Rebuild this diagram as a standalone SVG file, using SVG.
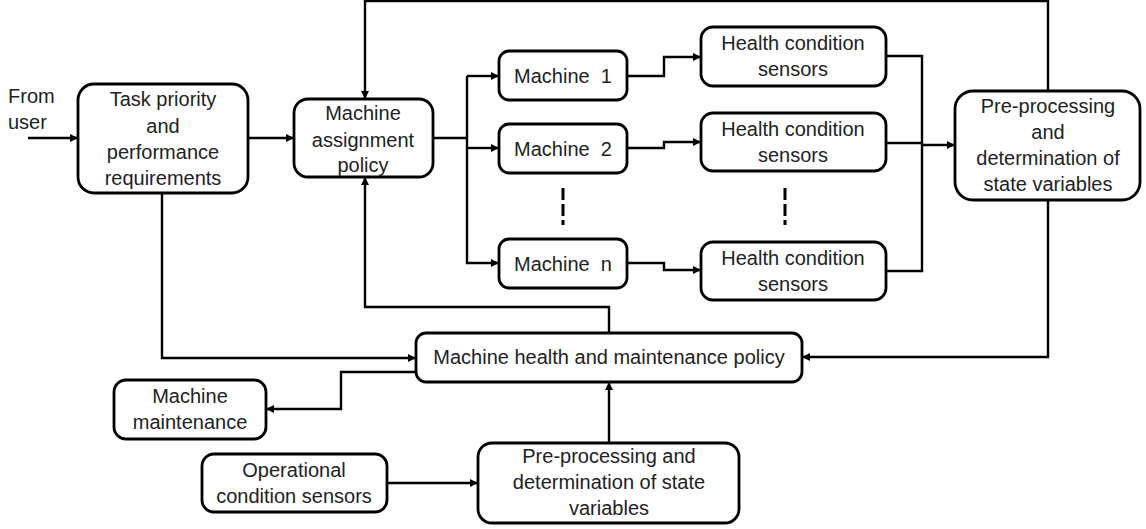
<svg xmlns="http://www.w3.org/2000/svg" width="1146" height="529" viewBox="0 0 1146 529">
<defs>
<marker id="ah" viewBox="0 0 10 10" refX="10" refY="5" markerWidth="9" markerHeight="8" markerUnits="userSpaceOnUse" orient="auto">
<path d="M0,0 L10,5 L0,10 z" fill="#000"/>
</marker>
<style>
.box{fill:#fff;stroke:#000;stroke-width:2.8}
.t{font-family:"Liberation Sans",Arial,sans-serif;font-size:20px;fill:#222;text-anchor:middle}
.c{fill:none;stroke:#000;stroke-width:2.4}
.a{marker-end:url(#ah)}
.d{fill:none;stroke:#000;stroke-width:3;stroke-dasharray:12,4}
</style>
</defs>
<rect width="1146" height="529" fill="#fff"/>
<g id="connectors">
<path class="c a" d="M28,138 H78"/>
<path class="c a" d="M248,138 H294"/>
<path class="c a" d="M1048,91 V1 H365 V99"/>
<path class="c" d="M433,138 H467"/>
<path class="c a" d="M467,76 H499"/>
<path class="c a" d="M467,76 V263 H499"/>
<path class="c a" d="M467,148 H499"/>
<path class="c a" d="M627,76 H664 V57 H701"/>
<path class="c a" d="M627,148 H664 V142 H701"/>
<path class="c a" d="M627,263 H664 V270 H701"/>
<path class="c" d="M886,56 H922 V271 H886"/>
<path class="c" d="M886,143 H922"/>
<path class="c a" d="M922,145 H955"/>
<path class="c a" d="M1048,200 V357 H802"/>
<path class="c a" d="M609,333 V307 H365 V177"/>
<path class="c a" d="M162,193 V358 H416"/>
<path class="c a" d="M416,372 H341 V409 H266"/>
<path class="c a" d="M387,483 H478"/>
<path class="c a" d="M609,443 V382"/>
<path class="d" d="M563,188 V225"/>
<path class="d" d="M785,188 V225"/>
</g>
<text class="t" x="8" y="103" style="text-anchor:start">From</text>
<text class="t" x="8" y="129" style="text-anchor:start">user</text>
<g id="task">
<rect class="box" x="78" y="84" width="170" height="109" rx="16"/>
<text class="t" x="163" y="106">Task priority</text>
<text class="t" x="163" y="133">and</text>
<text class="t" x="163" y="159">performance</text>
<text class="t" x="163" y="185">requirements</text>
</g>
<g id="assign">
<rect class="box" x="294" y="99" width="139" height="78" rx="14"/>
<text class="t" x="363" y="120">Machine</text>
<text class="t" x="363" y="147">assignment</text>
<text class="t" x="363" y="172">policy</text>
</g>
<g id="m1">
<rect class="box" x="499" y="51" width="128" height="49" rx="10"/>
<text class="t" x="563" y="83" xml:space="preserve">Machine  1</text>
</g>
<g id="m2">
<rect class="box" x="499" y="124" width="128" height="49" rx="10"/>
<text class="t" x="563" y="156" xml:space="preserve">Machine  2</text>
</g>
<g id="mn">
<rect class="box" x="499" y="239" width="128" height="49" rx="10"/>
<text class="t" x="563" y="271" xml:space="preserve">Machine  n</text>
</g>
<g id="h1">
<rect class="box" x="701" y="27" width="185" height="59" rx="12"/>
<text class="t" x="793" y="50">Health condition</text>
<text class="t" x="793" y="76">sensors</text>
</g>
<g id="h2">
<rect class="box" x="701" y="113" width="185" height="58" rx="12"/>
<text class="t" x="793" y="136">Health condition</text>
<text class="t" x="793" y="162">sensors</text>
</g>
<g id="hn">
<rect class="box" x="701" y="242" width="185" height="58" rx="12"/>
<text class="t" x="793" y="265">Health condition</text>
<text class="t" x="793" y="291">sensors</text>
</g>
<g id="prep1">
<rect class="box" x="955" y="91" width="185" height="109" rx="18"/>
<text class="t" x="1048" y="113">Pre-processing</text>
<text class="t" x="1048" y="139">and</text>
<text class="t" x="1048" y="165">determination of</text>
<text class="t" x="1048" y="191">state variables</text>
</g>
<g id="mhp">
<rect class="box" x="416" y="333" width="386" height="49" rx="10"/>
<text class="t" x="609" y="364">Machine health and maintenance policy</text>
</g>
<g id="maint">
<rect class="box" x="114" y="380" width="152" height="59" rx="12"/>
<text class="t" x="190" y="403">Machine</text>
<text class="t" x="190" y="429">maintenance</text>
</g>
<g id="ops">
<rect class="box" x="202" y="454" width="185" height="58" rx="12"/>
<text class="t" x="294" y="477">Operational</text>
<text class="t" x="294" y="503">condition sensors</text>
</g>
<g id="prep2">
<rect class="box" x="478" y="443" width="261" height="80" rx="14"/>
<text class="t" x="609" y="463">Pre-processing and</text>
<text class="t" x="609" y="489">determination of state</text>
<text class="t" x="609" y="515">variables</text>
</g>
</svg>
